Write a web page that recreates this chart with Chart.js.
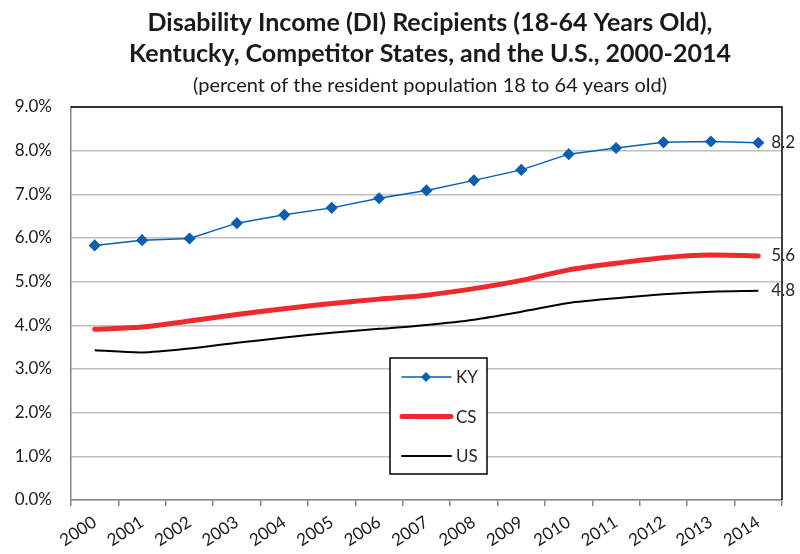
<!DOCTYPE html>
<html>
<head>
<meta charset="utf-8">
<script src="https://cdn.jsdelivr.net/npm/chart.js@4/dist/chart.umd.min.js"></script>
<style>
  html, body { margin: 0; padding: 0; background: #fff; }
  #wrap { width: 800px; height: 554px; position: relative; }
</style>
</head>
<body>
<div id="wrap"><canvas id="chart"></canvas></div>
<script>
// data
var years = ['2000','2001','2002','2003','2004','2005','2006','2007','2008','2009','2010','2011','2012','2013','2014'];
var kyValues = [5.83, 5.95, 5.99, 6.34, 6.53, 6.69, 6.91, 7.09, 7.32, 7.56, 7.92, 8.06, 8.19, 8.21, 8.18];
var csValues = [3.91, 3.96, 4.10, 4.25, 4.38, 4.50, 4.60, 4.69, 4.84, 5.03, 5.27, 5.42, 5.55, 5.61, 5.59];
var usValues = [3.43, 3.38, 3.47, 3.60, 3.72, 3.83, 3.92, 4.01, 4.13, 4.31, 4.51, 4.62, 4.71, 4.77, 4.79];
var yTicks = [0, 1, 2, 3, 4, 5, 6, 7, 8, 9];

var titleLines = [
    'Disability Income (DI) Recipients (18-64 Years Old),',
    'Kentucky, Competitor States, and the U.S., 2000-2014'
];
var subTitle = '(percent of the resident population 18 to 64 years old)';

var FONT = 'Lato, "Open Sans", sans-serif';

//Title, frame, end labels and the boxed legend
var decorations = {
    id: 'decorations',
    afterDraw: function(chart)
    {
        var ctx = chart.ctx;
        var area = chart.chartArea;
        var cx = 430;

        ctx.save();
        ctx.fillStyle = '#1a1a1a';
        ctx.textAlign = 'center';
        ctx.textBaseline = 'middle';
        ctx.font = 'bold 25px ' + FONT;
        ctx.fillText(titleLines[0], cx, 23);
        ctx.fillText(titleLines[1], cx, 54);
        ctx.font = '20px ' + FONT;
        ctx.fillText(subTitle, cx, 86);

        //top and right border of the plot
        ctx.strokeStyle = '#000';
        ctx.lineWidth = 1.5;
        ctx.beginPath();
        ctx.moveTo(area.left, area.top);
        ctx.lineTo(area.right, area.top);
        ctx.lineTo(area.right, area.bottom);
        ctx.stroke();

        //value labels at the end of each line
        var xScale = chart.scales.x;
        var yScale = chart.scales.y;
        ctx.font = '17px ' + FONT;
        ctx.textAlign = 'left';
        ctx.fillStyle = '#262626';
        chart.data.datasets.forEach(function(ds) {
            var last = ds.data.length - 1;
            var x = xScale.getPixelForValue(last) + 13;
            var y = yScale.getPixelForValue(ds.data[last]);
            ctx.fillText(ds.data[last].toFixed(1), x, y);
        });

        //legend box
        var box = {x: 390, y: 358, w: 97, h: 116};
        ctx.fillStyle = '#fff';
        ctx.fillRect(box.x, box.y, box.w, box.h);
        ctx.strokeStyle = '#000';
        ctx.lineWidth = 1.5;
        ctx.strokeRect(box.x, box.y, box.w, box.h);

        ctx.font = '17px ' + FONT;
        ctx.textAlign = 'left';
        chart.data.datasets.forEach(function(ds, i) {
            var y = box.y + 19 + i * 39.5;
            ctx.strokeStyle = ds.borderColor;
            ctx.lineWidth = ds.borderWidth;
            ctx.lineCap = 'round';
            ctx.beginPath();
            ctx.moveTo(402, y);
            ctx.lineTo(451, y);
            ctx.stroke();
            if (ds.pointRadius > 0) {
                ctx.fillStyle = ds.borderColor;
                ctx.beginPath();
                ctx.moveTo(426, y - 5);
                ctx.lineTo(431, y);
                ctx.lineTo(426, y + 5);
                ctx.lineTo(421, y);
                ctx.closePath();
                ctx.fill();
            }
            ctx.fillStyle = '#262626';
            ctx.fillText(ds.label, 456, y + 1);
        });
        ctx.restore();
    }
};

new Chart(document.getElementById('chart'), {
    type: 'line',
    data: {
        labels: years,
        datasets: [
            {
                label: 'KY',
                data: kyValues,
                borderColor: '#0a5fb0',
                backgroundColor: '#0a5fb0',
                borderWidth: 1.5,
                pointStyle: 'rectRot',
                pointRadius: 5,
                pointHoverRadius: 5,
                tension: 0
            },
            {
                label: 'CS',
                data: csValues,
                borderColor: '#ee2a2e',
                backgroundColor: '#ee2a2e',
                borderWidth: 5,
                pointRadius: 0,
                borderCapStyle: 'round',
                tension: 0.3
            },
            {
                label: 'US',
                data: usValues,
                borderColor: '#000',
                backgroundColor: '#000',
                borderWidth: 2,
                pointRadius: 0,
                tension: 0.3
            }
        ]
    },
    options: {
        responsive: true,
        maintainAspectRatio: false,
        animation: false,
        layout: { padding: { top: 107, right: 18, left: 0, bottom: 0 } },
        plugins: {
            legend: { display: false },
            title: { display: false },
            tooltip: { enabled: false }
        },
        scales: {
            x: {
                offset: true,
                grid: {
                    offset: true,
                    drawOnChartArea: false,
                    drawTicks: true,
                    tickLength: 6,
                    color: '#868686',
                    lineWidth: 1.5
                },
                border: { color: '#868686', width: 1.5 },
                ticks: {
                    minRotation: 33,
                    maxRotation: 33,
                    color: '#1a1a1a',
                    font: { family: FONT, size: 17 },
                    padding: 6
                },
                afterFit: function(scale) { scale.height = 54; }
            },
            y: {
                min: 0,
                max: 9,
                afterBuildTicks: function(scale) {
                    scale.ticks = yTicks.map(function(v) { return {value: v}; });
                },
                grid: {
                    color: '#bfbfbf',
                    lineWidth: 1.5,
                    drawTicks: false
                },
                border: { color: '#868686', width: 1.5 },
                ticks: {
                    color: '#1a1a1a',
                    font: { family: FONT, size: 17 },
                    padding: 19,
                    callback: function(v) { return v.toFixed(1) + '%'; }
                },
                afterFit: function(scale) { scale.width = 71; }
            }
        }
    },
    plugins: [decorations]
});
</script>
</body>
</html>
